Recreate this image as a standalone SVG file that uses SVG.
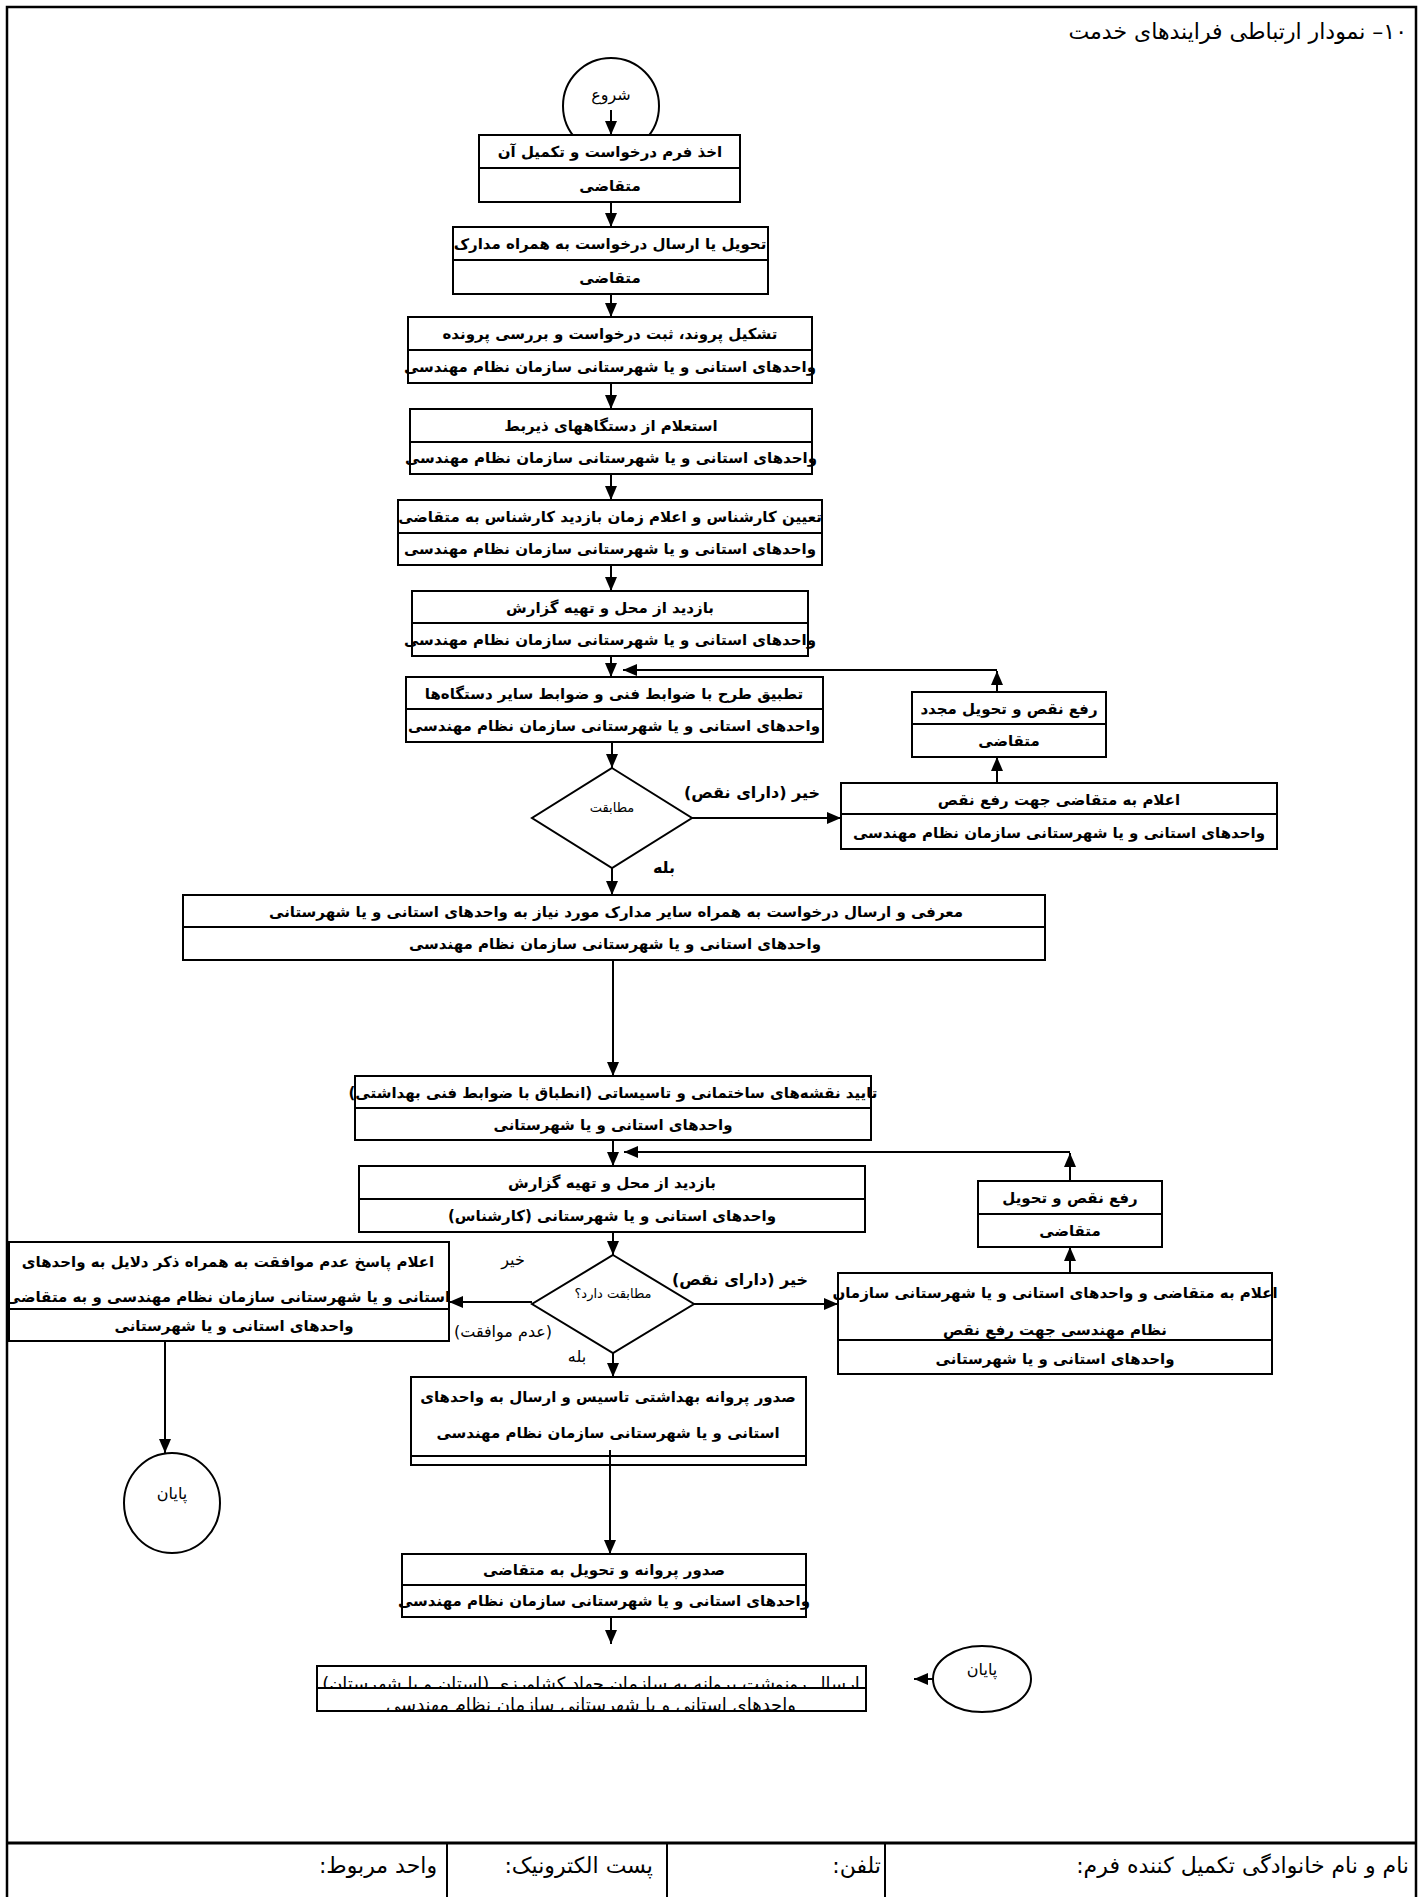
<svg xmlns="http://www.w3.org/2000/svg" width="1423" height="1897" viewBox="0 0 1423 1897">
<style>
.bx{fill:#fff;stroke:#000;stroke-width:2}
.dv{stroke:#000;stroke-width:2}
.ln{stroke:#000;stroke-width:2;fill:none}
.t{font-family:"DejaVu Sans",sans-serif;font-size:15px;font-weight:bold;text-anchor:middle;direction:rtl;unicode-bidi:embed;fill:#000}
.n{font-weight:normal}
.s{font-family:"DejaVu Sans",sans-serif;font-size:13px;text-anchor:middle;direction:rtl;unicode-bidi:embed}
.h{font-family:"DejaVu Sans",sans-serif;font-size:22px;text-anchor:start;direction:rtl;unicode-bidi:embed}
</style>
<defs>
<marker id="ah" markerUnits="userSpaceOnUse" markerWidth="14" markerHeight="12" refX="14" refY="6" orient="auto"><path d="M0,0 L14,6 L0,12 z" fill="#000"/></marker>
<clipPath id="c13a"><rect x="317" y="1666" width="549" height="22"/></clipPath>
<clipPath id="c13b"><rect x="317" y="1688" width="549" height="23"/></clipPath>
</defs>
<rect x="0" y="0" width="1423" height="1897" fill="#fff"/>
<g id="frame">
<rect x="7" y="7" width="1409" height="1910" fill="none" stroke="#000" stroke-width="2.5"/>
<line x1="7" y1="1843" x2="1416" y2="1843" stroke="#000" stroke-width="3"/>
<line x1="447" y1="1843" x2="447" y2="1897" class="dv"/>
<line x1="667" y1="1843" x2="667" y2="1897" class="dv"/>
<line x1="885" y1="1843" x2="885" y2="1897" class="dv"/>
<text class="h" x="1407" y="39">۱۰– نمودار ارتباطی فرایندهای خدمت</text>
<text class="h" x="1409" y="1873">نام و نام خانوادگی تکمیل کننده فرم:</text>
<text class="h" x="881" y="1873">تلفن:</text>
<text class="h" x="653" y="1873">پست الکترونیک:</text>
<text class="h" x="437" y="1873">واحد مربوط:</text>
</g>
<g id="start"><circle cx="611" cy="106" r="48" class="bx"/><text class="t n" x="611" y="100" style="font-size:16px">شروع</text></g>
<g id="n1"><rect x="479" y="135" width="261" height="67" class="bx"/><line x1="479" y1="168" x2="740" y2="168" class="dv"/><text class="t" x="610" y="157">اخذ فرم درخواست و تکمیل آن</text><text class="t" x="610" y="191">متقاضی</text></g>
<g id="n2"><rect x="453" y="227" width="315" height="67" class="bx"/><line x1="453" y1="260" x2="768" y2="260" class="dv"/><text class="t" x="610" y="249">تحویل یا ارسال درخواست به همراه مدارک</text><text class="t" x="610" y="283">متقاضی</text></g>
<g id="n3"><rect x="408" y="317" width="404" height="66" class="bx"/><line x1="408" y1="350" x2="812" y2="350" class="dv"/><text class="t" x="610" y="339">تشکیل پروند، ثبت درخواست و  بررسی پرونده</text><text class="t" x="610" y="372">واحدهای استانی و یا شهرستانی سازمان نظام مهندسی</text></g>
<g id="n4"><rect x="410" y="409" width="402" height="65" class="bx"/><line x1="410" y1="442" x2="812" y2="442" class="dv"/><text class="t" x="611" y="431">استعلام از دستگاههای ذیربط</text><text class="t" x="611" y="463">واحدهای استانی و یا شهرستانی سازمان نظام مهندسی</text></g>
<g id="n5"><rect x="398" y="500" width="424" height="65" class="bx"/><line x1="398" y1="533" x2="822" y2="533" class="dv"/><text class="t" x="610" y="522">تعیین کارشناس و اعلام زمان بازدید کارشناس به متقاضی</text><text class="t" x="610" y="554">واحدهای استانی و یا شهرستانی سازمان نظام مهندسی</text></g>
<g id="n6"><rect x="412" y="591" width="396" height="65" class="bx"/><line x1="412" y1="623" x2="808" y2="623" class="dv"/><text class="t" x="610" y="613">بازدید از محل و تهیه گزارش</text><text class="t" x="610" y="645">واحدهای استانی و یا شهرستانی سازمان نظام مهندسی</text></g>
<g id="n7"><rect x="406" y="677" width="417" height="65" class="bx"/><line x1="406" y1="709" x2="823" y2="709" class="dv"/><text class="t" x="614" y="699">تطبیق طرح با ضوابط فنی و ضوابط سایر دستگاه‌ها</text><text class="t" x="614" y="731">واحدهای استانی و یا شهرستانی سازمان نظام مهندسی</text></g>
<g id="r1"><rect x="912" y="692" width="194" height="65" class="bx"/><line x1="912" y1="724" x2="1106" y2="724" class="dv"/><text class="t" x="1009" y="714">رفع نقص و تحویل مجدد</text><text class="t" x="1009" y="746">متقاضی</text></g>
<g id="a1"><rect x="841" y="783" width="436" height="66" class="bx"/><line x1="841" y1="814" x2="1277" y2="814" class="dv"/><text class="t" x="1059" y="805">اعلام به متقاضی جهت رفع نقص</text><text class="t" x="1059" y="838">واحدهای استانی و یا شهرستانی سازمان نظام مهندسی</text></g>
<g id="d1"><polygon points="612,768 692,818 612,868 532,818" class="bx"/><text class="s" x="612" y="812">مطابقت</text></g>
<g id="n8"><rect x="183" y="895" width="862" height="65" class="bx"/><line x1="183" y1="927" x2="1045" y2="927" class="dv"/><text class="t" x="616" y="917">معرفی و ارسال درخواست  به همراه سایر مدارک مورد نیاز  به واحدهای استانی و یا شهرستانی</text><text class="t" x="615" y="949">واحدهای استانی و یا شهرستانی سازمان نظام مهندسی</text></g>
<g id="n9"><rect x="355" y="1076" width="516" height="64" class="bx"/><line x1="355" y1="1108" x2="871" y2="1108" class="dv"/><text class="t" x="613" y="1098">تایید نقشه‌های ساختمانی و تاسیساتی (انطباق با ضوابط  فنی بهداشتی)</text><text class="t" x="613" y="1130">واحدهای استانی و یا شهرستانی</text></g>
<g id="n10"><rect x="359" y="1166" width="506" height="66" class="bx"/><line x1="359" y1="1199" x2="865" y2="1199" class="dv"/><text class="t" x="612" y="1188">بازدید از محل و تهیه گزارش</text><text class="t" x="612" y="1221">واحدهای استانی و یا شهرستانی (کارشناس)</text></g>
<g id="r2"><rect x="978" y="1181" width="184" height="66" class="bx"/><line x1="978" y1="1214" x2="1162" y2="1214" class="dv"/><text class="t" x="1070" y="1203">رفع نقص و تحویل</text><text class="t" x="1070" y="1236">متقاضی</text></g>
<g id="a2"><rect x="838" y="1273" width="434" height="101" class="bx"/><line x1="838" y1="1340" x2="1272" y2="1340" class="dv"/><text class="t" x="1055" y="1298">اعلام به متقاضی  و واحدهای استانی و یا شهرستانی سازمان</text><text class="t" x="1055" y="1335">نظام مهندسی  جهت رفع نقص</text><text class="t" x="1055" y="1364">واحدهای استانی و یا شهرستانی</text></g>
<g id="d2"><polygon points="613,1255 694,1304 613,1353 532,1304" class="bx"/><text class="s" x="613" y="1298">مطابقت دارد؟</text></g>
<g id="l1"><rect x="9" y="1242" width="440" height="99" class="bx"/><line x1="9" y1="1309" x2="449" y2="1309" class="dv"/><text class="t" x="228" y="1267">اعلام پاسخ عدم موافقت به همراه ذکر دلایل به واحدهای</text><text class="t" x="228" y="1302">استانی و یا شهرستانی سازمان نظام مهندسی و  به متقاضی</text><text class="t" x="234" y="1331">واحدهای استانی و یا شهرستانی</text></g>
<g id="end1"><ellipse cx="172" cy="1503" rx="48" ry="50" class="bx"/><text class="t n" x="172" y="1499" style="font-size:16px">پایان</text></g>
<g id="n11"><rect x="411" y="1377" width="395" height="88" class="bx"/><line x1="411" y1="1456" x2="806" y2="1456" class="dv"/><text class="t" x="608" y="1402">صدور پروانه بهداشتی تاسیس و ارسال به واحدهای</text><text class="t" x="608" y="1438">استانی و یا شهرستانی سازمان نظام مهندسی</text></g>
<g id="n12"><rect x="402" y="1554" width="404" height="63" class="bx"/><line x1="402" y1="1585" x2="806" y2="1585" class="dv"/><text class="t" x="604" y="1575">صدور پروانه و تحویل به متقاضی</text><text class="t" x="604" y="1606">واحدهای استانی و یا شهرستانی سازمان نظام مهندسی</text></g>
<g id="n13"><rect x="317" y="1666" width="549" height="45" class="bx"/><text class="t n" x="591" y="1690" clip-path="url(#c13a)" style="font-size:18px">ارسال رونوشت پروانه به سازمان جهاد کشاورزی (استان و یا شهرستان)</text><text class="t n" x="591" y="1711" clip-path="url(#c13b)" style="font-size:18px">واحدهای استانی و یا شهرستانی سازمان نظام مهندسی</text><line x1="317" y1="1688" x2="866" y2="1688" class="dv"/><rect x="317" y="1666" width="549" height="45" fill="none" stroke="#000" stroke-width="2"/></g>
<g id="end2"><ellipse cx="982" cy="1679" rx="49" ry="33" class="bx"/><text class="t n" x="982" y="1675" style="font-size:16px">پایان</text></g>
<g id="labels">
<text class="t" x="752" y="798" style="font-size:16px">خیر (دارای نقص)</text>
<text class="t" x="664" y="873" style="font-size:16px">بله</text>
<text class="t" x="740" y="1285" style="font-size:16px">خیر (دارای نقص)</text>
<text class="t n" x="513" y="1265" style="font-size:16px">خیر</text>
<text class="t n" x="503" y="1337" style="font-size:16px">(عدم موافقت)</text>
<text class="t n" x="577" y="1362" style="font-size:16px">بله</text>
</g>
<g id="connectors" class="ln">
<line x1="611" y1="110" x2="611" y2="135" marker-end="url(#ah)"/>
<line x1="611" y1="202" x2="611" y2="227" marker-end="url(#ah)"/>
<line x1="611" y1="294" x2="611" y2="317" marker-end="url(#ah)"/>
<line x1="611" y1="383" x2="611" y2="409" marker-end="url(#ah)"/>
<line x1="611" y1="474" x2="611" y2="500" marker-end="url(#ah)"/>
<line x1="611" y1="565" x2="611" y2="591" marker-end="url(#ah)"/>
<line x1="611" y1="656" x2="611" y2="677" marker-end="url(#ah)"/>
<line x1="997" y1="692" x2="997" y2="671" marker-end="url(#ah)"/>
<line x1="997" y1="670" x2="623" y2="670" marker-end="url(#ah)"/>
<line x1="997" y1="783" x2="997" y2="757" marker-end="url(#ah)"/>
<line x1="612" y1="742" x2="612" y2="768" marker-end="url(#ah)"/>
<line x1="692" y1="818" x2="841" y2="818" marker-end="url(#ah)"/>
<line x1="612" y1="868" x2="612" y2="895" marker-end="url(#ah)"/>
<line x1="613" y1="960" x2="613" y2="1076" marker-end="url(#ah)"/>
<line x1="613" y1="1140" x2="613" y2="1166" marker-end="url(#ah)"/>
<line x1="1070" y1="1181" x2="1070" y2="1153" marker-end="url(#ah)"/>
<line x1="1070" y1="1152" x2="624" y2="1152" marker-end="url(#ah)"/>
<line x1="1070" y1="1273" x2="1070" y2="1247" marker-end="url(#ah)"/>
<line x1="613" y1="1232" x2="613" y2="1255" marker-end="url(#ah)"/>
<line x1="694" y1="1304" x2="838" y2="1304" marker-end="url(#ah)"/>
<line x1="532" y1="1302" x2="449" y2="1302" marker-end="url(#ah)"/>
<line x1="613" y1="1353" x2="613" y2="1377" marker-end="url(#ah)"/>
<line x1="165" y1="1341" x2="165" y2="1453" marker-end="url(#ah)"/>
<line x1="610" y1="1450" x2="610" y2="1554" marker-end="url(#ah)"/>
<line x1="611" y1="1617" x2="611" y2="1644" marker-end="url(#ah)"/>
<line x1="933" y1="1679" x2="914" y2="1679" marker-end="url(#ah)"/>
</g>
</svg>
